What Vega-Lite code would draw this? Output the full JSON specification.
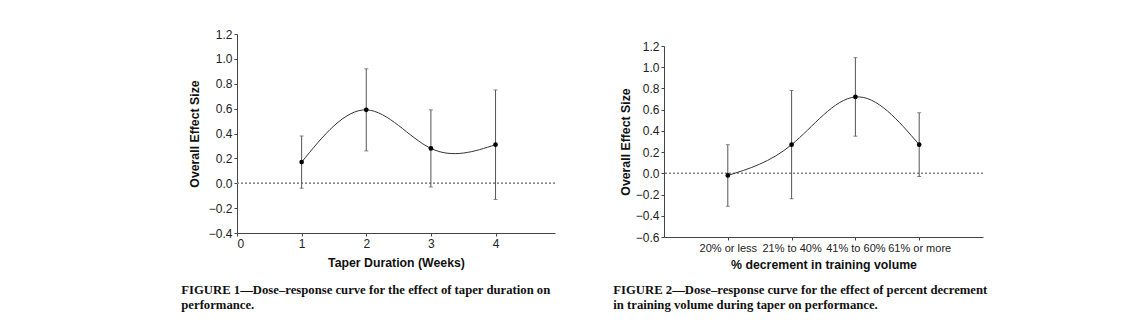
{
  "$schema": "https://vega.github.io/schema/vega-lite/v6.json",
  "padding": {"left": 181, "top": 28, "right": 5, "bottom": 5},
  "background": "white",
  "spacing": 109,
  "bounds": "flush",
  "config": {
    "view": {"stroke": null},
    "font": "Liberation Sans",
    "axis": {
      "grid": false,
      "domainColor": "#444",
      "tickColor": "#444",
      "labelColor": "#222",
      "labelFont": "Liberation Sans",
      "labelFontSize": 12,
      "labelOverlap": false,
      "titleFont": "Liberation Sans",
      "titleFontSize": 12.3,
      "titleFontWeight": "bold",
      "titleColor": "#111",
      "tickSize": 3,
      "labelPadding": 2
    },
    "title": {
      "font": "Liberation Serif",
      "fontSize": 12.7,
      "fontWeight": "bold",
      "color": "#111",
      "orient": "bottom",
      "anchor": "start",
      "frame": "bounds",
      "lineHeight": 15
    }
  },
  "datasets": {
    "taper": [
      {"week": 1, "es": 0.17, "lo": -0.04, "hi": 0.38},
      {"week": 2, "es": 0.59, "lo": 0.26, "hi": 0.92},
      {"week": 3, "es": 0.28, "lo": -0.03, "hi": 0.59},
      {"week": 4, "es": 0.31, "lo": -0.13, "hi": 0.75}
    ],
    "volume": [
      {"dec": "20% or less", "es": -0.02, "lo": -0.31, "hi": 0.27},
      {"dec": "21% to 40%", "es": 0.27, "lo": -0.24, "hi": 0.78},
      {"dec": "41% to 60%", "es": 0.72, "lo": 0.35, "hi": 1.09},
      {"dec": "61% or more", "es": 0.27, "lo": -0.03, "hi": 0.57}
    ]
  },
  "hconcat": [
    {
      "width": 318,
      "height": 199,
      "title": {"text": ["FIGURE 1—Dose–response curve for the effect of taper duration on", "performance."], "dx": -7, "offset": 16},
      "data": {"name": "taper"},
      "encoding": {
        "x": {"field": "week", "type": "quantitative",
              "scale": {"domain": [0, 4.92], "nice": false, "zero": false},
              "axis": {"values": [0, 1, 2, 3, 4], "title": "Taper Duration (Weeks)", "titlePadding": 7}}
      },
      "layer": [
        {"mark": {"type": "rule", "color": "#888", "strokeDash": [2, 2], "strokeWidth": 1},
         "encoding": {"y": {"datum": 0, "type": "quantitative",
                 "scale": {"domain": [-0.4, 1.2], "nice": false},
                 "axis": {"values": [-0.4, -0.2, 0, 0.2, 0.4, 0.6, 0.8, 1.0, 1.2], "format": ".1f", "title": "Overall Effect Size", "titlePadding": 7, "labelOverlap": false}}, "x": null}},
        {"mark": {"type": "rule", "color": "#555", "strokeWidth": 1},
         "encoding": {
           "y": {"field": "lo", "type": "quantitative",
                 "scale": {"domain": [-0.4, 1.2], "nice": false},
                 "axis": {"values": [-0.4, -0.2, 0, 0.2, 0.4, 0.6, 0.8, 1.0, 1.2], "format": ".1f", "title": "Overall Effect Size", "titlePadding": 7, "labelOverlap": false}},
           "y2": {"field": "hi"}}},
        {"mark": {"type": "tick", "orient": "horizontal", "size": 4, "thickness": 1, "color": "#555"},
         "encoding": {"y": {"field": "lo", "type": "quantitative",
                 "scale": {"domain": [-0.4, 1.2], "nice": false},
                 "axis": {"values": [-0.4, -0.2, 0, 0.2, 0.4, 0.6, 0.8, 1.0, 1.2], "format": ".1f", "title": "Overall Effect Size", "titlePadding": 7, "labelOverlap": false}}}},
        {"mark": {"type": "tick", "orient": "horizontal", "size": 4, "thickness": 1, "color": "#555"},
         "encoding": {"y": {"field": "hi", "type": "quantitative",
                 "scale": {"domain": [-0.4, 1.2], "nice": false},
                 "axis": {"values": [-0.4, -0.2, 0, 0.2, 0.4, 0.6, 0.8, 1.0, 1.2], "format": ".1f", "title": "Overall Effect Size", "titlePadding": 7, "labelOverlap": false}}}},
        {"mark": {"type": "line", "interpolate": "natural", "color": "#333", "strokeWidth": 1},
         "encoding": {"y": {"field": "es", "type": "quantitative",
                 "scale": {"domain": [-0.4, 1.2], "nice": false},
                 "axis": {"values": [-0.4, -0.2, 0, 0.2, 0.4, 0.6, 0.8, 1.0, 1.2], "format": ".1f", "title": "Overall Effect Size", "titlePadding": 7, "labelOverlap": false}}}},
        {"mark": {"type": "point", "filled": true, "size": 22, "color": "#000", "opacity": 1},
         "encoding": {"y": {"field": "es", "type": "quantitative",
                 "scale": {"domain": [-0.4, 1.2], "nice": false},
                 "axis": {"values": [-0.4, -0.2, 0, 0.2, 0.4, 0.6, 0.8, 1.0, 1.2], "format": ".1f", "title": "Overall Effect Size", "titlePadding": 7, "labelOverlap": false}}}}
      ]
    },
    {
      "width": 319,
      "height": 203,
      "title": {"text": ["FIGURE 2—Dose–response curve for the effect of percent decrement", "in training volume during taper on performance."], "dx": -6, "offset": 14},
      "data": {"name": "volume"},
      "encoding": {
        "x": {"field": "dec", "type": "ordinal", "sort": null,
              "scale": {"type": "point", "padding": 1},
              "axis": {"labelAngle": 0, "labelFontSize": 11, "title": "% decrement in training volume", "titlePadding": 5}}
      },
      "layer": [
        {"mark": {"type": "rule", "color": "#888", "strokeDash": [2, 2], "strokeWidth": 1},
         "encoding": {"y": {"datum": 0, "type": "quantitative",
                 "scale": {"domain": [-0.6, 1.2], "nice": false, "range": [203, 12]},
                 "axis": {"values": [-0.6, -0.4, -0.2, 0, 0.2, 0.4, 0.6, 0.8, 1.0, 1.2], "format": ".1f", "title": "Overall Effect Size", "titlePadding": 3, "labelOverlap": false}}, "x": null}},
        {"mark": {"type": "rule", "color": "#555", "strokeWidth": 1},
         "encoding": {
           "y": {"field": "lo", "type": "quantitative",
                 "scale": {"domain": [-0.6, 1.2], "nice": false, "range": [203, 12]},
                 "axis": {"values": [-0.6, -0.4, -0.2, 0, 0.2, 0.4, 0.6, 0.8, 1.0, 1.2], "format": ".1f", "title": "Overall Effect Size", "titlePadding": 3, "labelOverlap": false}},
           "y2": {"field": "hi"}}},
        {"mark": {"type": "tick", "orient": "horizontal", "size": 4, "thickness": 1, "color": "#555"},
         "encoding": {"y": {"field": "lo", "type": "quantitative",
                 "scale": {"domain": [-0.6, 1.2], "nice": false, "range": [203, 12]},
                 "axis": {"values": [-0.6, -0.4, -0.2, 0, 0.2, 0.4, 0.6, 0.8, 1.0, 1.2], "format": ".1f", "title": "Overall Effect Size", "titlePadding": 3, "labelOverlap": false}}}},
        {"mark": {"type": "tick", "orient": "horizontal", "size": 4, "thickness": 1, "color": "#555"},
         "encoding": {"y": {"field": "hi", "type": "quantitative",
                 "scale": {"domain": [-0.6, 1.2], "nice": false, "range": [203, 12]},
                 "axis": {"values": [-0.6, -0.4, -0.2, 0, 0.2, 0.4, 0.6, 0.8, 1.0, 1.2], "format": ".1f", "title": "Overall Effect Size", "titlePadding": 3, "labelOverlap": false}}}},
        {"mark": {"type": "line", "interpolate": "natural", "color": "#333", "strokeWidth": 1},
         "encoding": {"y": {"field": "es", "type": "quantitative",
                 "scale": {"domain": [-0.6, 1.2], "nice": false, "range": [203, 12]},
                 "axis": {"values": [-0.6, -0.4, -0.2, 0, 0.2, 0.4, 0.6, 0.8, 1.0, 1.2], "format": ".1f", "title": "Overall Effect Size", "titlePadding": 3, "labelOverlap": false}}}},
        {"mark": {"type": "point", "filled": true, "size": 22, "color": "#000", "opacity": 1},
         "encoding": {"y": {"field": "es", "type": "quantitative",
                 "scale": {"domain": [-0.6, 1.2], "nice": false, "range": [203, 12]},
                 "axis": {"values": [-0.6, -0.4, -0.2, 0, 0.2, 0.4, 0.6, 0.8, 1.0, 1.2], "format": ".1f", "title": "Overall Effect Size", "titlePadding": 3, "labelOverlap": false}}}}
      ]
    }
  ]
}
